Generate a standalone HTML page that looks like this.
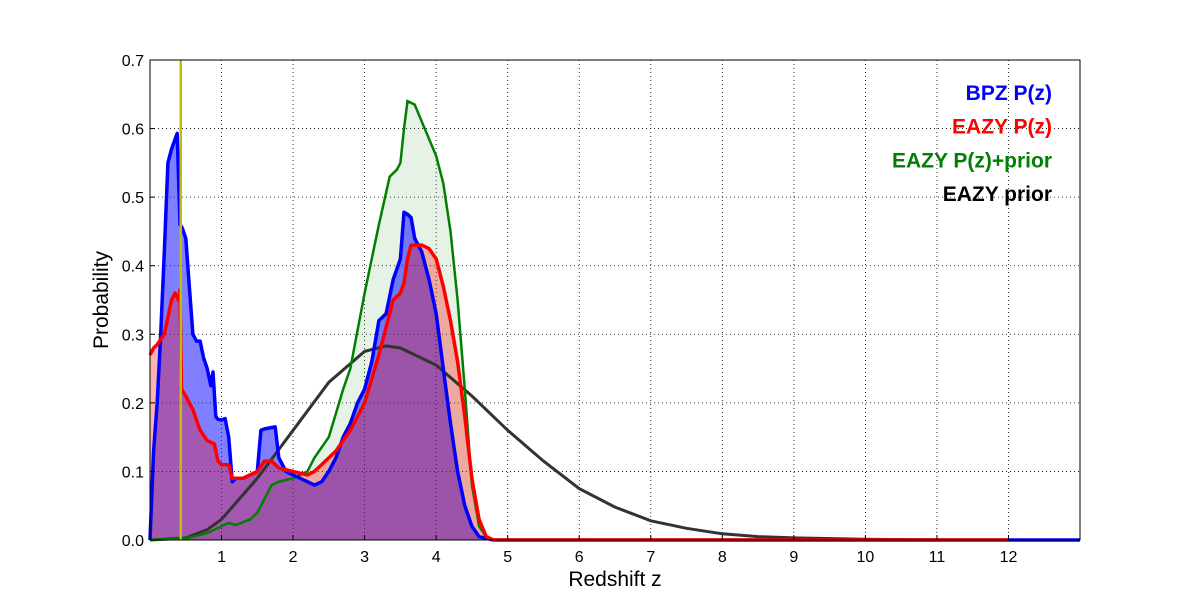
<!DOCTYPE html>
<html><head><meta charset="utf-8"><style>
body{margin:0;background:#fff;}
svg text{font-family:"Liberation Sans",sans-serif;}
</style></head><body>
<svg id="chart" width="1200" height="600" xmlns="http://www.w3.org/2000/svg"></svg>
<script>
const xTicks=[1,2,3,4,5,6,7,8,9,10,11,12];
const yTicks=[0.0,0.1,0.2,0.3,0.4,0.5,0.6,0.7];
const bpzZ=[0,0.05,0.1,0.15,0.2,0.25,0.3,0.38,0.42,0.45,0.5,0.55,0.6,0.65,0.7,0.75,0.8,0.85,0.88,0.92,0.95,1.0,1.05,1.1,1.15,1.2,1.3,1.4,1.5,1.55,1.6,1.75,1.8,1.9,2.0,2.1,2.2,2.3,2.4,2.5,2.6,2.7,2.8,2.9,3.0,3.1,3.2,3.3,3.4,3.5,3.55,3.6,3.65,3.7,3.8,3.9,4.0,4.1,4.2,4.3,4.4,4.5,4.6,4.8,13];
const bpzP=[0,0.13,0.2,0.3,0.42,0.55,0.57,0.593,0.46,0.455,0.44,0.37,0.3,0.29,0.29,0.265,0.25,0.225,0.245,0.18,0.176,0.175,0.177,0.15,0.085,0.09,0.09,0.095,0.1,0.16,0.162,0.165,0.12,0.1,0.095,0.09,0.085,0.08,0.085,0.1,0.12,0.15,0.17,0.2,0.22,0.26,0.32,0.33,0.38,0.41,0.478,0.475,0.47,0.44,0.42,0.38,0.33,0.25,0.17,0.1,0.05,0.02,0.005,0,0];
const eazyZ=[0,0.05,0.1,0.2,0.3,0.35,0.4,0.42,0.44,0.5,0.6,0.7,0.8,0.9,0.95,1.0,1.1,1.15,1.3,1.5,1.6,1.7,1.8,2.0,2.2,2.3,2.4,2.6,2.8,3.0,3.2,3.4,3.5,3.55,3.6,3.65,3.8,3.9,4.0,4.1,4.2,4.3,4.4,4.5,4.6,4.7,4.8,12];
const eazyP=[0.27,0.28,0.285,0.3,0.35,0.36,0.35,0.365,0.22,0.21,0.19,0.16,0.145,0.14,0.115,0.11,0.11,0.09,0.09,0.1,0.115,0.115,0.105,0.1,0.095,0.1,0.11,0.13,0.16,0.2,0.27,0.35,0.36,0.375,0.41,0.43,0.43,0.425,0.41,0.37,0.32,0.26,0.18,0.09,0.03,0.005,0,0];
const priorZZ=[0,0.5,0.8,1.0,1.1,1.2,1.4,1.5,1.6,1.7,1.8,2.0,2.2,2.3,2.5,2.7,2.8,3.0,3.2,3.35,3.45,3.5,3.55,3.6,3.7,3.8,4.0,4.1,4.2,4.3,4.4,4.5,4.6,4.7,4.8];
const priorZP=[0,0.002,0.01,0.02,0.025,0.022,0.03,0.04,0.06,0.08,0.085,0.09,0.1,0.12,0.15,0.22,0.25,0.36,0.46,0.53,0.54,0.55,0.6,0.64,0.635,0.61,0.56,0.52,0.45,0.35,0.22,0.08,0.02,0.005,0];
const priorZ=[0,0.5,0.8,1.0,1.5,2.0,2.5,3.0,3.3,3.5,4.0,4.5,5.0,5.5,6.0,6.5,7.0,7.5,8.0,8.5,9.0,10,11,12];
const priorP=[0,0.003,0.015,0.03,0.09,0.16,0.23,0.275,0.283,0.28,0.255,0.21,0.16,0.115,0.075,0.048,0.028,0.017,0.009,0.005,0.003,0.001,0,0];
const zSpec=0.43;

const svg=document.getElementById('chart');
const NS='http://www.w3.org/2000/svg';
const X0=150,X1=1080,Y0=540,Y1=60,XMAX=13,YMAX=0.7;
const sx=z=>X0+(z/XMAX)*(X1-X0);
const sy=p=>Y0-(p/YMAX)*(Y0-Y1);
function mk(tag,attrs){const e=document.createElementNS(NS,tag);for(const k in attrs)e.setAttribute(k,attrs[k]);svg.appendChild(e);return e;}
function linePts(zs,ps){return zs.map((z,i)=>sx(z).toFixed(1)+','+sy(ps[i]).toFixed(1)).join(' ');}
function areaPts(zs,ps){return sx(zs[0])+','+sy(0)+' '+linePts(zs,ps)+' '+sx(zs[zs.length-1])+','+sy(0);}

// grid
xTicks.forEach(t=>{const g=mk('line',{x1:sx(t),x2:sx(t),y1:Y1,y2:Y0,stroke:'#000','stroke-width':0.8,'stroke-dasharray':'1,3'});

});
yTicks.forEach(t=>{const g=mk('line',{x1:X0,x2:X1,y1:sy(t),y2:sy(t),stroke:'#000','stroke-width':0.8,'stroke-dasharray':'1,3'});

});

// fills
let f;
f=mk('polygon',{points:areaPts(priorZZ,priorZP),fill:'rgba(0,128,0,0.1)'});


f=mk('polygon',{points:areaPts(bpzZ,bpzP),fill:'rgba(0,0,255,0.5)'});


f=mk('polygon',{points:areaPts(eazyZ,eazyP),fill:'rgba(255,0,0,0.3)'});



// lines
let l;
l=mk('polyline',{points:linePts(priorZ,priorP),fill:'none',stroke:'#333','stroke-width':3});


l=mk('polyline',{points:linePts(priorZZ,priorZP),fill:'none',stroke:'#008000','stroke-width':2.5});


l=mk('polyline',{points:linePts(bpzZ,bpzP),fill:'none',stroke:'#0000ff','stroke-width':3.5,'stroke-linejoin':'round'});


l=mk('polyline',{points:linePts(eazyZ,eazyP),fill:'none',stroke:'#ff0000','stroke-width':3.5,'stroke-linejoin':'round'});


l=mk('line',{x1:sx(zSpec),x2:sx(zSpec),y1:Y1,y2:Y0,stroke:'#bfbf00','stroke-width':2.5});



// frame
const fr=mk('rect',{x:X0,y:Y1,width:X1-X0,height:Y0-Y1,fill:'none',stroke:'#000','stroke-width':1});



// ticks
xTicks.forEach(t=>{
const tk=mk('line',{x1:sx(t),x2:sx(t),y1:Y0,y2:Y0-5,stroke:'#000'});


const tx=mk('text',{x:sx(t),y:Y0+22,'font-size':16,'text-anchor':'middle'});tx.textContent=t;

});
yTicks.forEach(t=>{
const tk=mk('line',{x1:X0,x2:X0+5,y1:sy(t),y2:sy(t),stroke:'#000'});


const tx=mk('text',{x:X0-6,y:sy(t)+6,'font-size':16,'text-anchor':'end'});tx.textContent=t.toFixed(1);

});

// axis titles
let t;
t=mk('text',{x:615,y:586,'font-size':21,'text-anchor':'middle'});t.textContent='Redshift z';


t=mk('text',{x:108,y:300,'font-size':21,'text-anchor':'middle',transform:'rotate(-90 108 300)'});t.textContent='Probability';



// legend
const legTexts=['BPZ P(z)','EAZY P(z)','EAZY P(z)+prior','EAZY prior'];
const legColors=['#0000ff','#ff0000','#008000','#000000'];
legTexts.forEach((s,i)=>{const e=mk('text',{x:1052,y:100+i*33.7,'font-size':21,'font-weight':'bold','text-anchor':'end',fill:legColors[i]});e.textContent=s;

});
</script>
</body></html>
